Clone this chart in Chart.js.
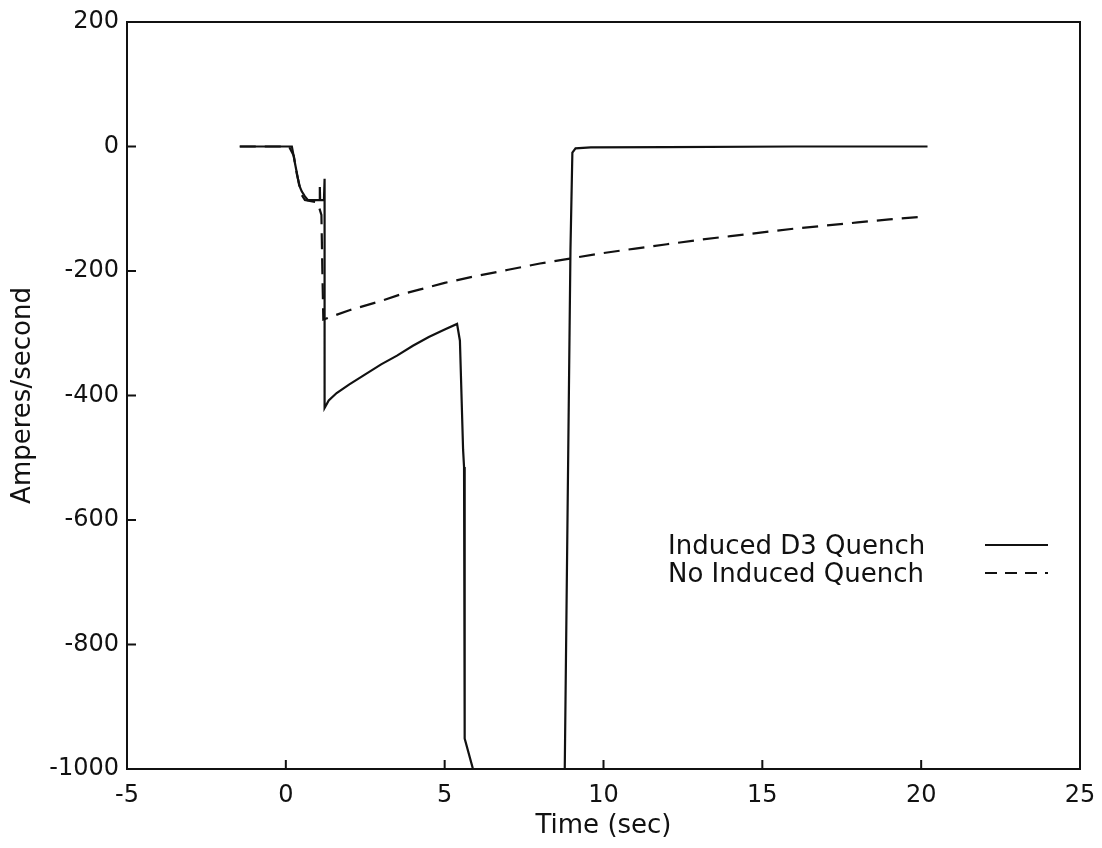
<!DOCTYPE html>
<html><head><meta charset="utf-8">
<script src="https://cdn.jsdelivr.net/npm/chart.js@4/dist/chart.umd.min.js"></script>
<style>html,body{margin:0;padding:0;background:#fff;} #wrap{width:1102px;height:848px;position:relative;}</style>
</head><body><div id="wrap"><canvas id="c" width="1102" height="848"></canvas></div>
<script>
const xTicks = [-5, 0, 5, 10, 15, 20, 25];
const yTicks = [-1000, -800, -600, -400, -200, 0, 200];
const seriesNames = ['Induced D3 Quench', 'No Induced Quench'];
const xTitle = 'Time (sec)';
const yTitle = 'Amperes/second';

const inducedTime = [-1.45, 0.19, 0.3, 0.42, 0.5, 0.6, 0.69, 1.06, 1.07, 1.08, 1.2, 1.22, 1.22,
  1.35, 1.6, 2.0, 2.5, 3.0, 3.5, 4.0, 4.5, 5.0, 5.39, 5.48, 5.58, 5.61, 5.63, 5.88, 5.95,
  8.70, 8.78, 8.96, 9.02, 9.12, 9.6, 12, 16, 20.2];
const inducedValue = [0, 0, -30, -62, -72, -80, -86, -86, -65, -86, -86, -52, -420,
  -408, -396, -382, -366, -350, -336, -320, -306, -294, -285, -312, -487, -515, -951, -998, -1040,
  -1040, -1000, -166, -10, -3, -1.5, -1, 0, 0];

const noQuenchTime = [-1.45, 0.1, 0.25, 0.35, 0.5, 0.6, 1.0, 1.12, 1.15, 1.18,
  1.5, 2.0, 3.0, 3.59, 4.2, 5.0, 6.0, 7.0, 8.0, 8.94, 9.88, 11, 12, 13, 14, 15, 16, 17, 18, 19, 20.05];
const noQuenchValue = [0, 0, -15, -45, -78, -86, -90, -110, -200, -278,
  -272, -263, -248, -238, -230, -219, -208, -198, -188, -180, -172, -164, -157, -150, -144, -138, -132, -127, -122, -117, -113];

const toPts = (xs, ys) => xs.map((v, i) => ({x: v, y: ys[i]}));
const INK = '#111';
const FONT = '"DejaVu Sans", "Liberation Sans", Arial, sans-serif';

const framePlugin = {
  id: 'frame',
  afterDatasetsDraw(chart) {
    const {ctx, chartArea: a, scales: {x, y}} = chart;
    ctx.save();
    ctx.strokeStyle = INK;
    ctx.lineWidth = 2;
    ctx.strokeRect(a.left, a.top, a.right - a.left, a.bottom - a.top);
    ctx.beginPath();
    xTicks.slice(1, -1).forEach(v => { const p = x.getPixelForValue(v); ctx.moveTo(p, a.bottom); ctx.lineTo(p, a.bottom - 9); });
    yTicks.slice(1, -1).forEach(v => { const p = y.getPixelForValue(v); ctx.moveTo(a.left, p); ctx.lineTo(a.left + 9, p); });
    ctx.stroke();
    // legend
    ctx.font = '26px ' + FONT;
    ctx.fillStyle = INK;
    ctx.textBaseline = 'middle';
    ctx.textAlign = 'left';
    const rows = [547, 575];
    seriesNames.forEach((name, i) => {
      ctx.fillText(name, 668, rows[i]);
      ctx.beginPath();
      ctx.setLineDash(i === 0 ? [] : [12, 8]);
      ctx.moveTo(985, rows[i] - 2);
      ctx.lineTo(1048, rows[i] - 2);
      ctx.stroke();
    });
    ctx.restore();
  }
};

new Chart(document.getElementById('c'), {
  type: 'line',
  data: {
    datasets: [
      {label: seriesNames[0], data: toPts(inducedTime, inducedValue), borderColor: INK, borderWidth: 2.2,
       pointRadius: 0, tension: 0, fill: false},
      {label: seriesNames[1], data: toPts(noQuenchTime, noQuenchValue), borderColor: INK, borderWidth: 2.2,
       borderDash: [16, 9], pointRadius: 0, tension: 0, fill: false}
    ]
  },
  options: {
    responsive: false,
    animation: false,
    devicePixelRatio: 1,
    layout: {padding: {left: 0, right: 22, top: 22, bottom: 0}},
    plugins: {legend: {display: false}, tooltip: {enabled: false}},
    scales: {
      x: {
        type: 'linear', min: -5, max: 25,
        afterBuildTicks: s => { s.ticks = xTicks.map(v => ({value: v})); },
        afterFit: s => { s.height = 79; s.paddingLeft = 0; s.paddingRight = 0; },
        grid: {display: false, drawTicks: false},
        border: {display: false},
        ticks: {color: INK, font: {family: FONT, size: 24}, padding: 12, maxRotation: 0, autoSkip: false,
                callback: v => String(v)},
        title: {display: true, text: xTitle, color: INK, font: {family: FONT, size: 26}, padding: {top: 0, bottom: 6}}
      },
      y: {
        type: 'linear', min: -1000, max: 200,
        afterBuildTicks: s => { s.ticks = yTicks.map(v => ({value: v})); },
        afterFit: s => { s.width = 127; s.paddingTop = 0; s.paddingBottom = 0; },
        grid: {display: false, drawTicks: false},
        border: {display: false},
        ticks: {color: INK, font: {family: FONT, size: 24}, padding: 8, autoSkip: false,
                callback: v => String(v)},
        title: {display: true, text: yTitle, color: INK, font: {family: FONT, size: 26}, padding: {top: 8, bottom: 0}}
      }
    }
  },
  plugins: [framePlugin]
});
</script>
</body></html>
